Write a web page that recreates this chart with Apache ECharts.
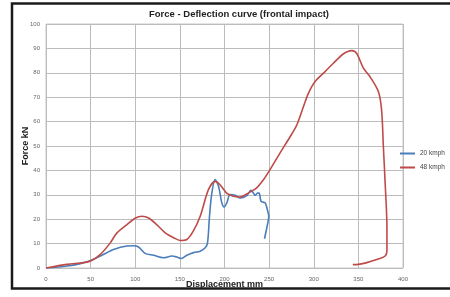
<!DOCTYPE html>
<html><head><meta charset="utf-8">
<script src="https://cdn.jsdelivr.net/npm/echarts@6/dist/echarts.min.js"></script>
<style>html,body{margin:0;padding:0;background:#fff}#c{width:450px;height:297px}</style>
</head><body><div id="c"></div>
<script>
const titleText = 'Force - Deflection curve (frontal impact)';
const xName = 'Displacement mm';
const yName = 'Force kN';
const seriesNames = ['20 kmph', '48 kmph'];
const xTicks = [0, 50, 100, 150, 200, 250, 300, 350, 400];
const yTicks = [0, 10, 20, 30, 40, 50, 60, 70, 80, 90, 100];

const kmph20 = [
  [0,0],[23.5,0.8],[38.4,1.8],[50,3.1],[61,4.9],[75.7,7.6],[90.7,9.0],[98,9.1],[103.7,8.6],
  [111,6.0],[120.5,5.2],[131.7,4.2],[141,4.9],[146.6,4.5],[151.5,3.9],[157.8,5.2],[165.3,6.3],
  [172.8,6.9],[178.4,8.3],[181,10.3],[183.2,21.2],[185.8,30.7],[189.5,36.2],[193.3,33.5],
  [197,26.7],[199.6,25],[202.6,26.7],[206.3,30.1],[211.9,29.8],[217.5,28.7],[225,29.7],
  [229.5,31.8],[232.5,30.7],[234.3,29.7],[237,30.7],[238.8,30.7],[241,27.3],[245.5,26.7],
  [248,23.9],[249.6,21.2],[247.4,16.5],[244.8,12]
];
const kmph48 = [
  [0,0],[23.5,1.5],[42,2.2],[50,2.9],[61,5.6],[72,10.3],[79.5,14.4],[90.7,17.8],[100.4,20.5],
  [107.5,21.2],[115,20.5],[124,17.8],[133.6,14.4],[143,12.4],[150.4,11.3],[157.8,11.7],
  [165,15.1],[172.8,21.2],[182,32.1],[189.5,35.5],[195,34.1],[202.4,30.7],[210,29.4],
  [217,29.1],[226.6,30.7],[236,32.8],[243.7,36.2],[251,40.3],[262,47],[273.5,53.8],
  [281,58.6],[288.5,66.2],[294,71.6],[301.5,76.4],[312.7,80.5],[322,83.9],[333,87.7],
  [342.5,89.1],[348,88],[355.6,81.9],[363,78.4],[372.4,72.3],[376,64.8],[378,49.8],
  [380,34.8],[382,16.5],[382,7.6],[380,4.9],[370.5,3.5],[359.5,2.2],[350,1.5],[343.8,1.4]
];

const chart = echarts.init(document.getElementById('c'), null, {renderer:'canvas'});
const font = 'Arial, "Liberation Sans", sans-serif';
chart.setOption({
  animation: false,
  backgroundColor: '#fff',
  title: {text: titleText, left: 234, top: 4, textAlign: 'center',
    textStyle: {fontFamily: font, fontSize: 9.5, fontWeight: 'bold', color: '#222'}},
  legend: {orient: 'vertical', left: 395, top: 145, itemGap: 7, itemWidth: 15, itemHeight: 2,
    icon: 'rect', data: seriesNames,
    textStyle: {fontFamily: font, fontSize: 6.5, color: '#444'}},
  grid: {left: 46, right: 47, top: 24, bottom: 29, show: true, borderColor: '#c8c8c8', borderWidth: 1},
  xAxis: {type: 'value', min: xTicks[0], max: xTicks[xTicks.length-1], interval: 50,
    name: xName, nameLocation: 'middle', nameGap: 12, nameMoveOverlap: false,
    nameTextStyle: {fontFamily: font, fontSize: 9, fontWeight: 'bold', color: '#222'},
    axisLine: {show: false}, axisTick: {show: false},
    axisLabel: {fontFamily: font, fontSize: 6, color: '#666', margin: 8},
    splitLine: {lineStyle: {color: '#bcbcbc', width: 1}}},
  yAxis: {type: 'value', min: yTicks[0], max: yTicks[yTicks.length-1], interval: 10,
    name: yName, nameLocation: 'middle', nameGap: 16, nameRotate: 90, nameMoveOverlap: false,
    nameTextStyle: {fontFamily: font, fontSize: 9, fontWeight: 'bold', color: '#222'},
    axisLine: {show: false}, axisTick: {show: false},
    axisLabel: {fontFamily: font, fontSize: 6, color: '#666', margin: 6},
    splitLine: {lineStyle: {color: '#bcbcbc', width: 1}}},
  series: [
    {name: seriesNames[0], type: 'line', data: kmph20, smooth: 0.3, showSymbol: false,
      lineStyle: {color: '#4a7ebb', width: 1.6}, itemStyle: {color: '#4a7ebb'}},
    {name: seriesNames[1], type: 'line', data: kmph48, smooth: 0.3, showSymbol: false,
      lineStyle: {color: '#be4b48', width: 1.6}, itemStyle: {color: '#be4b48'}}
  ],
  graphic: [{type: 'polyline', shape: {points: [[480,3.5],[12,3.5],[12,288.5],[480,288.5]]},
    style: {fill: 'none', stroke: '#1a1a1a', lineWidth: 2.5}, z: 100}]
});
</script></body></html>
